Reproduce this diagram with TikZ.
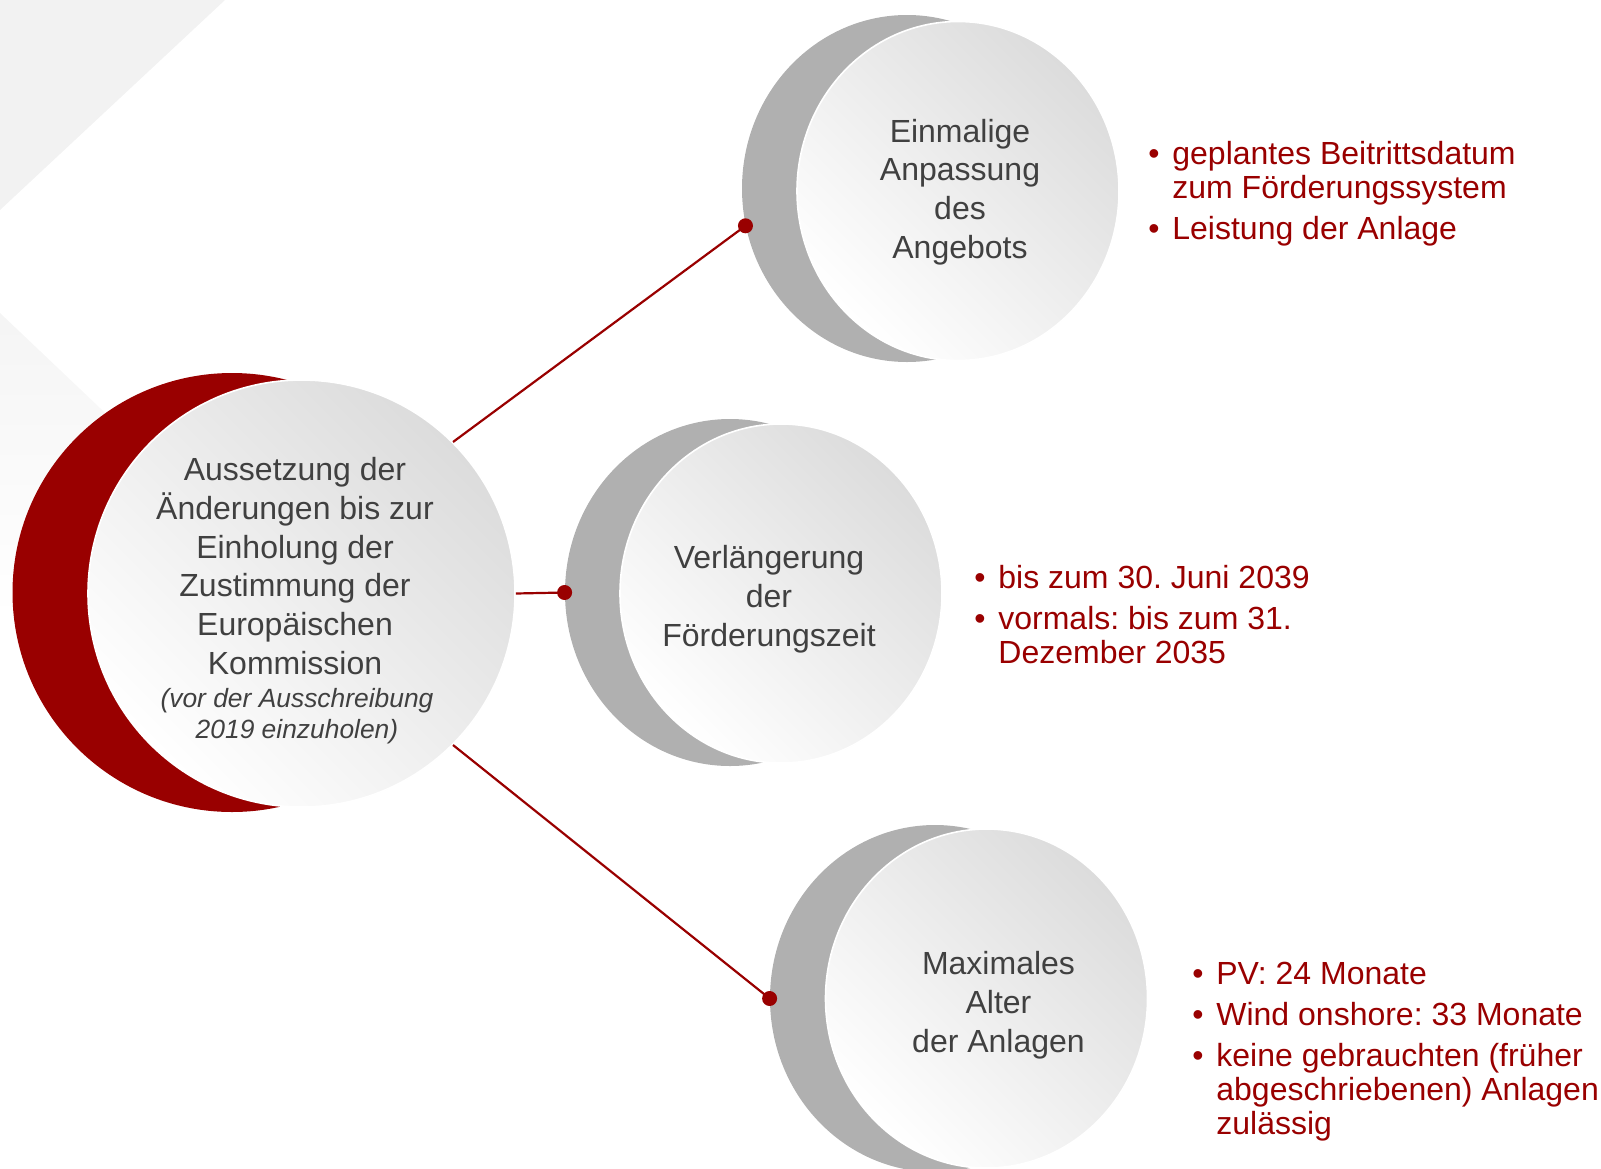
\documentclass[tikz,border=0pt]{standalone}
\usepackage{fontspec}
\setmainfont{Liberation Sans}
\usepackage{xcolor}
\usepackage{tikz}
\usetikzlibrary{shapes.geometric}

\definecolor{dkred}{RGB}{153,0,0}
\definecolor{dkgray}{RGB}{64,64,64}
\definecolor{midgray}{RGB}{176,176,176}
\definecolor{pale}{RGB}{242,242,242}
\definecolor{rimgray}{RGB}{220,220,220}

\newcommand{\bul}{\makebox[12pt][l]{•}}
\newcommand{\cont}{\hspace*{12pt}}
\frenchspacing

\begin{document}
\begin{tikzpicture}[
  x=0.5pt, y=-0.5pt,
  backdisc/.style={ellipse, inner sep=0pt, fill=midgray,
                   minimum width=165pt, minimum height=173.5pt},
  frontdisc/.style={ellipse, inner sep=0pt, draw=white, line width=0.8pt,
                    top color=rimgray, bottom color=white, shading angle=-45,
                    minimum width=161pt, minimum height=169.5pt},
  ctext/.style={align=center, inner sep=0pt, text=dkgray,
                font=\fontsize{16}{19.4}\selectfont},
  pts/.style={align=left, inner sep=0pt, anchor=north west, text=dkred,
              font=\fontsize{16}{17}\selectfont},
  knob/.style={circle, inner sep=0pt, minimum size=7.5pt, fill=dkred},
  lnk/.style={draw=dkred, line width=1.1pt},
]
\useasboundingbox (0,0) rectangle (1601,1168);
\clip (0,0) rectangle (1601,1168);
% Background
\fill[pale] (0,0) -- (225,0) -- (0,210) -- cycle;
\shade[top color=black!4, bottom color=white] (0,313) -- (160,465) -- (0,620) -- cycle;
% Main circle
\node[circle, inner sep=0pt, fill=dkred, minimum size=219.5pt] (ausback) at (232,592.5) {};
\node[circle, inner sep=0pt, draw=white, line width=0.8pt,
      top color=rimgray, bottom color=white, shading angle=-45,
      minimum size=213.5pt] (aus) at (301.5,593.5) {};
\node[ctext] (aust) at (295,566) {Aussetzung der\\Änderungen bis zur\\Einholung der\\Zustimmung der\\Europäischen\\Kommission};
\node[ctext, font=\fontsize{13.2}{15.5}\selectfont\itshape] (ausnote) at (297,716) {(vor der Ausschreibung\\2019 einzuholen)};
% Side circles
\node[backdisc] (anpback) at (907,188.5) {};
\node[frontdisc] (anp) at (958,191) {};
\node[ctext] (anpt) at (960,192) {Einmalige\\Anpassung\\des\\Angebots};
\node[backdisc] (foeback) at (730,592.5) {};
\node[frontdisc] (foe) at (781,593.5) {};
\node[ctext] (foet) at (769,599) {Verlängerung\\der\\Förderungszeit};
\node[backdisc] (altback) at (935,998.5) {};
\node[frontdisc] (alt) at (986.5,998.5) {};
\node[ctext] (altt) at (998.5,1005) {Maximales\\Alter\\der Anlagen};
% Connectors
\node[knob] (anpdot) at (anpback.193) {};
\node[knob] (foedot) at (foeback.west) {};
\node[knob] (altdot) at (altback.west) {};
\draw[lnk] (aus.45) -- (anpdot.center);
\draw[lnk] (aus.east) -- (foedot.center);
\draw[lnk] (aus.-45) -- (altdot.center);
% Bullet lists
\node[pts] (anpl) at (1148,141) {\bul geplantes Beitrittsdatum\\\cont zum Förderungssystem\\[3.5pt]\bul Leistung der Anlage};
\node[pts] (foel) at (974,565) {\bul bis zum 30. Juni 2039\\[3.5pt]\bul vormals: bis zum 31.\\\cont Dezember 2035};
\node[pts] (altl) at (1192,962) {\bul PV: 24 Monate\\[3.5pt]\bul Wind onshore: 33 Monate\\[3.5pt]\bul keine gebrauchten (früher\\\cont abgeschriebenen) Anlagen\\\cont zulässig};
\end{tikzpicture}
\end{document}
